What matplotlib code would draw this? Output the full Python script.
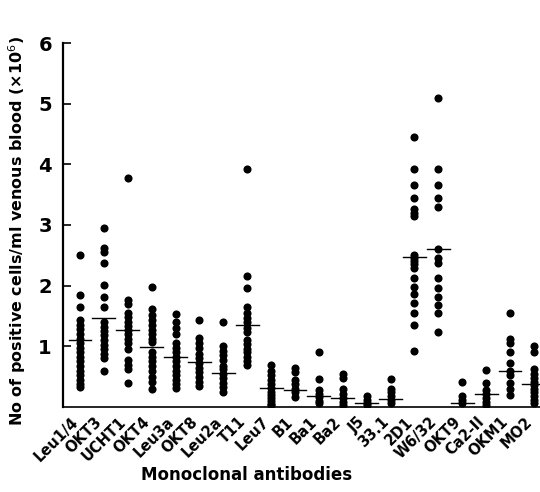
import matplotlib
matplotlib.use("Agg")
import matplotlib.pyplot as plt
import matplotlib.transforms as mtransforms

categories = ["Leu1/4", "OKT3", "UCHT1", "OKT4", "Leu3a", "OKT8", "Leu2a", "T11",
              "Leu7", "B1", "Ba1", "Ba2", "J5", "33.1", "2D1", "W6/32", "OKT9",
              "Ca2-II", "OKM1", "MO2"]

leu14 = [2.5, 1.85, 1.65, 1.43, 1.35, 1.28, 1.2, 1.12, 1.05, 0.98, 0.9, 0.82, 0.75, 0.67, 0.6, 0.52, 0.45, 0.38, 0.33]
okt3 = [2.95, 2.62, 2.55, 2.37, 2.01, 1.82, 1.65, 1.4, 1.32, 1.25, 1.18, 1.1, 1.02, 0.95, 0.88, 0.8, 0.6]
ucht1 = [3.78, 1.76, 1.7, 1.55, 1.48, 1.4, 1.33, 1.27, 1.2, 1.12, 1.05, 0.95, 0.78, 0.7, 0.62, 0.4]
okt4 = [1.98, 1.62, 1.52, 1.43, 1.35, 1.27, 1.2, 1.12, 1.07, 0.9, 0.83, 0.75, 0.68, 0.6, 0.5, 0.42, 0.3]
leu3a = [1.53, 1.4, 1.3, 1.2, 1.05, 0.97, 0.9, 0.83, 0.76, 0.68, 0.6, 0.52, 0.45, 0.38, 0.31]
okt8 = [1.43, 1.14, 1.05, 0.97, 0.88, 0.8, 0.72, 0.65, 0.58, 0.5, 0.42, 0.35]
leu2a = [1.4, 1.0, 0.93, 0.85, 0.77, 0.68, 0.62, 0.55, 0.48, 0.4, 0.33, 0.25]
t11 = [3.92, 2.16, 1.96, 1.65, 1.55, 1.47, 1.4, 1.3, 1.24, 1.1, 1.03, 0.96, 0.9, 0.82, 0.75, 0.69]
leu7 = [0.7, 0.6, 0.52, 0.45, 0.38, 0.32, 0.25, 0.2, 0.15, 0.1, 0.05, 0.03]
b1 = [0.64, 0.58, 0.45, 0.38, 0.3, 0.25, 0.17]
ba1 = [0.9, 0.46, 0.28, 0.22, 0.16, 0.1, 0.06]
ba2 = [0.55, 0.48, 0.3, 0.22, 0.15, 0.08, 0.04]
j5 = [0.18, 0.12, 0.07, 0.04]
ab331 = [0.46, 0.3, 0.24, 0.18, 0.12, 0.06]
d2d1 = [4.45, 3.93, 3.66, 3.45, 3.27, 3.2, 3.14, 2.5, 2.45, 2.4, 2.35, 2.29, 2.13, 1.98, 1.86, 1.72, 1.55, 1.35, 0.93]
w632 = [5.1, 3.93, 3.66, 3.45, 3.3, 2.6, 2.46, 2.38, 2.13, 1.96, 1.82, 1.68, 1.55, 1.24]
okt9 = [0.41, 0.18, 0.12, 0.06]
ca2ii = [0.61, 0.4, 0.28, 0.22, 0.15, 0.08, 0.04]
okm1 = [1.55, 1.12, 1.06, 0.91, 0.73, 0.6, 0.52, 0.4, 0.3, 0.2]
mo2 = [1.0, 0.9, 0.62, 0.55, 0.48, 0.42, 0.36, 0.3, 0.24, 0.18, 0.12, 0.06]

values = [leu14, okt3, ucht1, okt4, leu3a, okt8, leu2a, t11, leu7, b1, ba1, ba2,
          j5, ab331, d2d1, w632, okt9, ca2ii, okm1, mo2]

means = [1.1, 1.46, 1.27, 0.99, 0.82, 0.74, 0.56, 1.35, 0.31, 0.28, 0.18, 0.15,
         0.07, 0.13, 2.47, 2.6, 0.07, 0.22, 0.6, 0.38]

y_ticks = [1, 2, 3, 4, 5, 6]

FONT = "DejaVu Sans"
fig = plt.figure(figsize=(5.4, 4.92), dpi=100)
ax = fig.add_axes([0.1167, 0.1728, 0.883, 0.7398])

for i, vals in enumerate(values):
    ax.scatter([i] * len(vals), vals, s=34, color="black", zorder=3, linewidths=0)
    ax.plot([i - 0.48, i + 0.48], [means[i], means[i]], color="black", lw=1.0, zorder=4)

ax.set_xlim(-0.71, 19.25)
ax.set_ylim(0, 6)
ax.spines["top"].set_visible(False)
ax.spines["right"].set_visible(False)
ax.spines["left"].set_linewidth(1.6)
ax.spines["bottom"].set_linewidth(1.2)

ax.set_yticks(y_ticks)
ax.set_yticklabels([str(t) for t in y_ticks], fontsize=14, fontweight="bold", family=FONT)
ax.tick_params(axis="y", direction="in", length=6, width=1.2, pad=8)

ax.set_xticks(range(len(categories)))
ax.set_xticklabels(categories, rotation=45, ha="right", va="center",
                   rotation_mode="anchor", fontsize=10.5, fontweight="bold", family=FONT)
ax.tick_params(axis="x", length=0, pad=9)
offset = mtransforms.ScaledTranslation(-3 / 72, 0, fig.dpi_scale_trans)
for lbl in ax.get_xticklabels():
    lbl.set_transform(lbl.get_transform() + offset)
ax.set_xticks([3, 7, 15], minor=True)
ax.tick_params(axis="x", which="minor", direction="in", length=8, width=1.2)

fig.text(0.032, 0.53, "No of positive cells/ml venous blood (\u00d710$^{6}$)",
         rotation=90, ha="center", va="center", fontsize=11.5, fontweight="bold", family=FONT)
fig.text(0.457, 0.035, "Monoclonal antibodies", ha="center", va="center",
         fontsize=12, fontweight="bold", family=FONT)

fig.savefig("out.png", dpi=100)
